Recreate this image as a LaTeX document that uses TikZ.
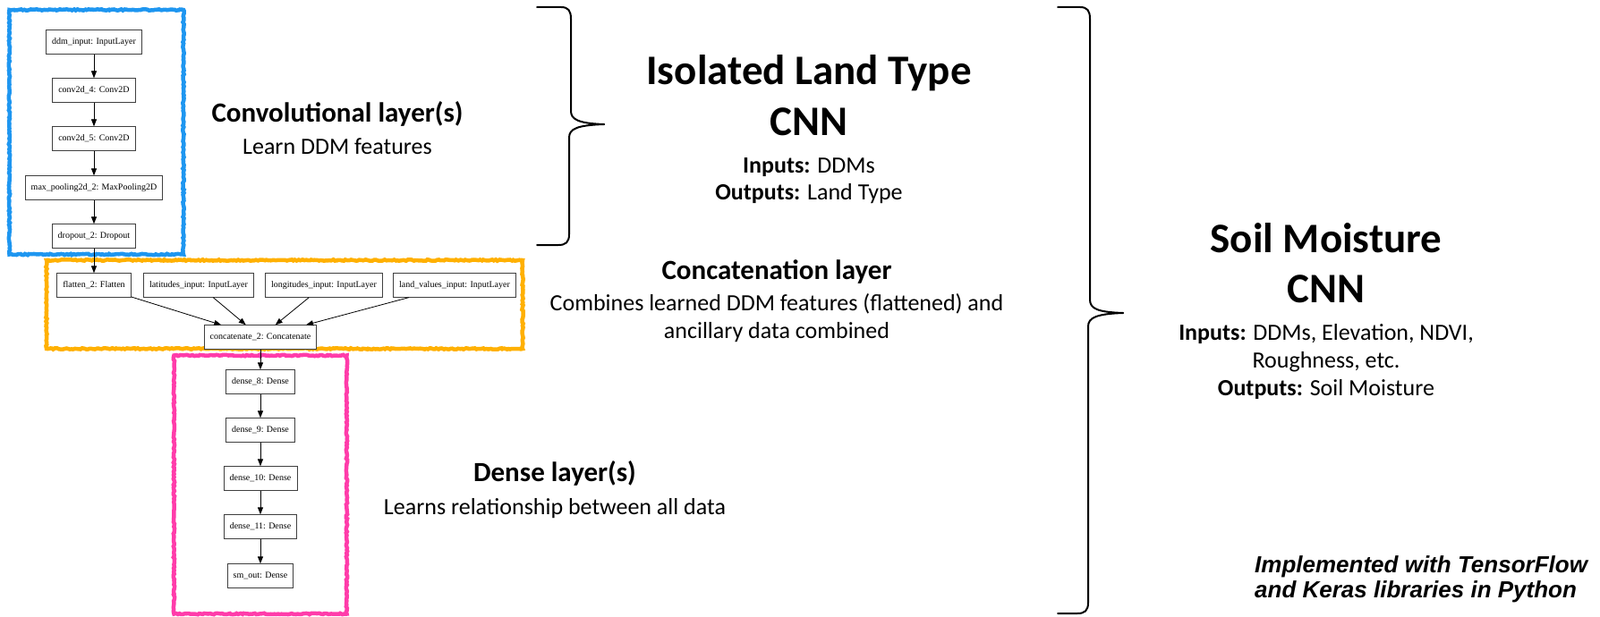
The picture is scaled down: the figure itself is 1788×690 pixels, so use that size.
\documentclass[tikz,border=0pt]{standalone}
\usepackage{fontspec}
\setmainfont{Liberation Serif}
\newfontfamily\calfont{Carlito}
\newfontfamily\arialfont{Liberation Sans}
\usetikzlibrary{arrows.meta,decorations.pathmorphing}
\definecolor{cblue}{RGB}{30,150,240}
\definecolor{corange}{RGB}{255,176,0}
\definecolor{cpink}{RGB}{255,60,170}
\begin{document}
\begin{tikzpicture}[x=1pt,y=-1pt,
  layer/.style={draw=black!75, fill=white, line width=0.8pt, font=\fontsize{10}{12}\selectfont, inner xsep=6.5pt, inner ysep=0pt, minimum height=26.5pt},
  flow/.style={-{Triangle[length=8pt,width=6pt]}, line width=0.8pt},
  crayon/.style={line width=4.5pt, decorate, decoration={random steps, segment length=2pt, amplitude=0.7pt}},
  brace/.style={line width=2pt, line cap=round, line join=round},
  title/.style={font=\calfont\bfseries\fontsize{47}{56}\selectfont, anchor=base, inner sep=0pt},
  head/.style={font=\calfont\bfseries\fontsize{31}{37}\selectfont, anchor=base, inner sep=0pt},
  body/.style={font=\calfont\fontsize{26}{31}\selectfont, anchor=base, inner sep=0pt},
  note/.style={font=\arialfont\bfseries\itshape\fontsize{26}{28}\selectfont, anchor=base west, inner sep=0pt},
]
\useasboundingbox[fill=white] (0,0) rectangle (1788,690);

% coloured group frames
\draw[crayon, cblue] (10.5,11) rectangle (205,284.5);
\draw[crayon, corange] (52,291) rectangle (584,390);
\draw[crayon, cpink] (194.5,397.5) rectangle (387.5,686.5);

% convolutional part
\node[layer] (ddm) at (105,47) {ddm\_input: InputLayer};
\node[layer] (conv4) at (105,101) {conv2d\_4: Conv2D};
\node[layer] (conv5) at (105,155) {conv2d\_5: Conv2D};
\node[layer] (pool) at (105,210) {max\_pooling2d\_2: MaxPooling2D};
\node[layer] (drop) at (105,264) {dropout\_2: Dropout};

% concatenation part
\node[layer] (flat) at (105,319) {flatten\_2: Flatten};
\node[layer] (lat) at (222,319) {latitudes\_input: InputLayer};
\node[layer] (lon) at (362,319) {longitudes\_input: InputLayer};
\node[layer] (land) at (508,319) {land\_values\_input: InputLayer};
\node[layer] (concat) at (291,377) {concatenate\_2: Concatenate};

% dense part
\node[layer] (d8) at (291,427) {dense\_8: Dense};
\node[layer] (d9) at (291,481) {dense\_9: Dense};
\node[layer] (d10) at (291,535) {dense\_10: Dense};
\node[layer] (d11) at (291,589) {dense\_11: Dense};
\node[layer] (out) at (291,644) {sm\_out: Dense};

\draw[flow] (ddm) -- (conv4);
\draw[flow] (conv4) -- (conv5);
\draw[flow] (conv5) -- (pool);
\draw[flow] (pool) -- (drop);
\draw[flow] (drop) -- (flat);
\draw[flow] (flat) -- (concat);
\draw[flow] (lat) -- (concat);
\draw[flow] (lon) -- (concat);
\draw[flow] (land) -- (concat);
\draw[flow] (concat) -- (d8);
\draw[flow] (d8) -- (d9);
\draw[flow] (d9) -- (d10);
\draw[flow] (d10) -- (d11);
\draw[flow] (d11) -- (out);

% descriptions
\node[head] (convh) at (377,137) {Convolutional layer(s)};
\node[body] (convb) at (377,172) {Learn DDM features};
\node[head] (cath) at (868,312) {Concatenation layer};
\node[body] (catb1) at (868,347) {Combines learned DDM features (flattened) and};
\node[body] (catb2) at (868,378) {ancillary data combined};
\node[head] (denh) at (620,538) {Dense layer(s)};
\node[body] (denb) at (620,575) {Learns relationship between all data};

% small brace
\draw[brace] (600,8) -- (627,8) .. controls (635,8) and (638,12) .. (638,21) -- (638,124)
  .. controls (638,133) and (645,138) .. (675,139);
\draw[brace] (675,139) .. controls (645,140) and (636,144) .. (636,154) -- (636,262)
  .. controls (636,271) and (632,274) .. (624,274) -- (600,274);

% big brace
\draw[brace] (1182,8) -- (1207,8) .. controls (1215,8) and (1218,12) .. (1218,21) -- (1218,335)
  .. controls (1218,345) and (1226,349) .. (1255,350);
\draw[brace] (1255,350) .. controls (1226,351) and (1216,355) .. (1216,365) -- (1216,674)
  .. controls (1216,683) and (1212,686) .. (1204,686) -- (1182,686);

% Isolated land type CNN
\node[title] (iso1) at (904,95) {Isolated Land Type};
\node[title] (iso2) at (904,152) {CNN};
\node[body] (iso3) at (904,193) {\bfseries Inputs:\mdseries{} DDMs};
\node[body] (iso4) at (904,223) {\bfseries Outputs:\mdseries{} Land Type};

% Soil moisture CNN
\node[title] (sm1) at (1482,282) {Soil Moisture};
\node[title] (sm2) at (1482,338) {CNN};
\node[body] (sm3) at (1482,380) {\bfseries Inputs:\mdseries{} DDMs, Elevation, NDVI,};
\node[body] (sm4) at (1482,411) {Roughness, etc.};
\node[body] (sm5) at (1482,442) {\bfseries Outputs:\mdseries{} Soil Moisture};

\node[note] (impl1) at (1402,640) {Implemented with TensorFlow};
\node[note] (impl2) at (1402,668) {and Keras libraries in Python};
\end{tikzpicture}
\end{document}
